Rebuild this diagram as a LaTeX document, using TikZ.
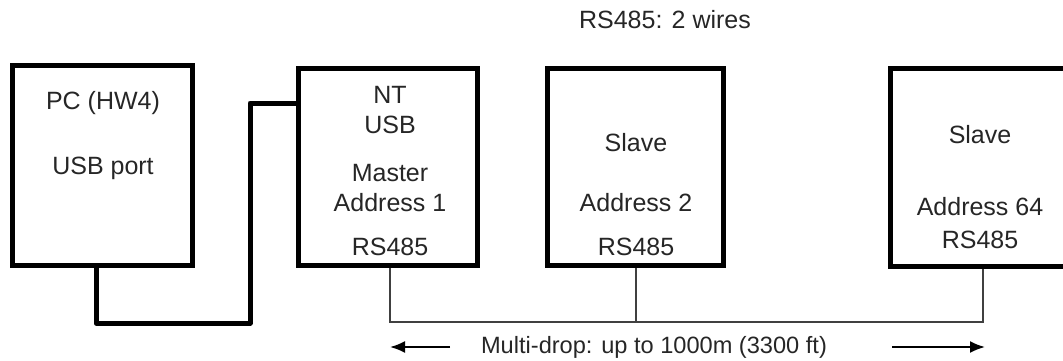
\documentclass[tikz,border=0pt]{standalone}
\usepackage{fontspec}
\setmainfont{Liberation Sans}
\usepackage{tikz}
\usetikzlibrary{arrows.meta,calc,positioning}

\begin{document}
\begin{tikzpicture}[x=0.5pt, y=-0.5pt]
    \tikzset{unitbox/.style={rectangle, draw=black, line width=2.5pt, fill=white, minimum width=90pt, minimum height=100pt, inner sep=0pt}}
    \tikzset{lbl/.style={text=black!85, font=\fontsize{12.5}{14}\selectfont, inner sep=0pt}}
    \tikzset{usbcable/.style={draw=black, line width=2.5pt, line join=round}}
    \tikzset{buswire/.style={draw=black!75, line width=0.7pt}}
    \tikzset{span/.style={draw=black, line width=1pt, -{Latex[length=7.5pt, width=6pt]}}}

    \useasboundingbox (0,0) rectangle (1063,360);

    % BOXES
    \node[unitbox] (pc) at (102.5,165) {};
    \node[unitbox, minimum width=89.5pt, minimum height=98.5pt] (nt) at (388,167) {};
    \node[unitbox, minimum width=88pt, minimum height=98.5pt] (s2) at (635.5,167) {};
    \node[unitbox, minimum width=94pt, minimum height=99pt] (s64) at (984.5,167) {};

    % TEXTS
    \node[lbl] (pcname) at (103,103) {PC (HW4)};
    \node[lbl] (pcport) at (103,168) {USB port};
    \node[lbl] (ntname) at (390,95) {NT};
    \node[lbl] (ntusb) at (390,125) {USB};
    \node[lbl] (ntrole) at (390,173) {Master};
    \node[lbl] (ntaddr) at (390,203) {Address 1};
    \node[lbl] (ntport) at (390,247) {RS485};
    \node[lbl] (s2role) at (636,143) {Slave};
    \node[lbl] (s2addr) at (636,203) {Address 2};
    \node[lbl] (s2port) at (636,247) {RS485};
    \node[lbl] (s64role) at (980,135) {Slave};
    \node[lbl] (s64addr) at (980,207) {Address 64};
    \node[lbl] (s64port) at (980,240) {RS485};
    \node[lbl] (wires) at (665,20) {RS485: 2 wires};
    \node[lbl, font=\fontsize{11.8}{14}\selectfont] (multidrop) at (654,347) {Multi-drop: up to 1000m (3300 ft)};

    % USB CABLE
    \coordinate (u1) at (96,323);
    \coordinate (u2) at (250,103);
    \draw[usbcable] (pc.south -| u1) -- (u1) -| (u2) -- (u2 -| nt.west);

    % RS485 BUS
    \coordinate (bus) at (0,322);
    \draw[buswire] (nt.south -| ntport) -- (ntport |- bus) -- (983,322) coordinate (busend) -- (busend |- s64.south);
    \draw[buswire] (s2.south -| s2port) -- (s2port |- bus);

    % SPAN ARROWS
    \coordinate (al) at (390,347);
    \coordinate (ar) at (985,347);
    \draw[span] (450,347) coordinate (al0) -- (al);
    \draw[span] (892,347) coordinate (ar0) -- (ar);
\end{tikzpicture}
\end{document}
